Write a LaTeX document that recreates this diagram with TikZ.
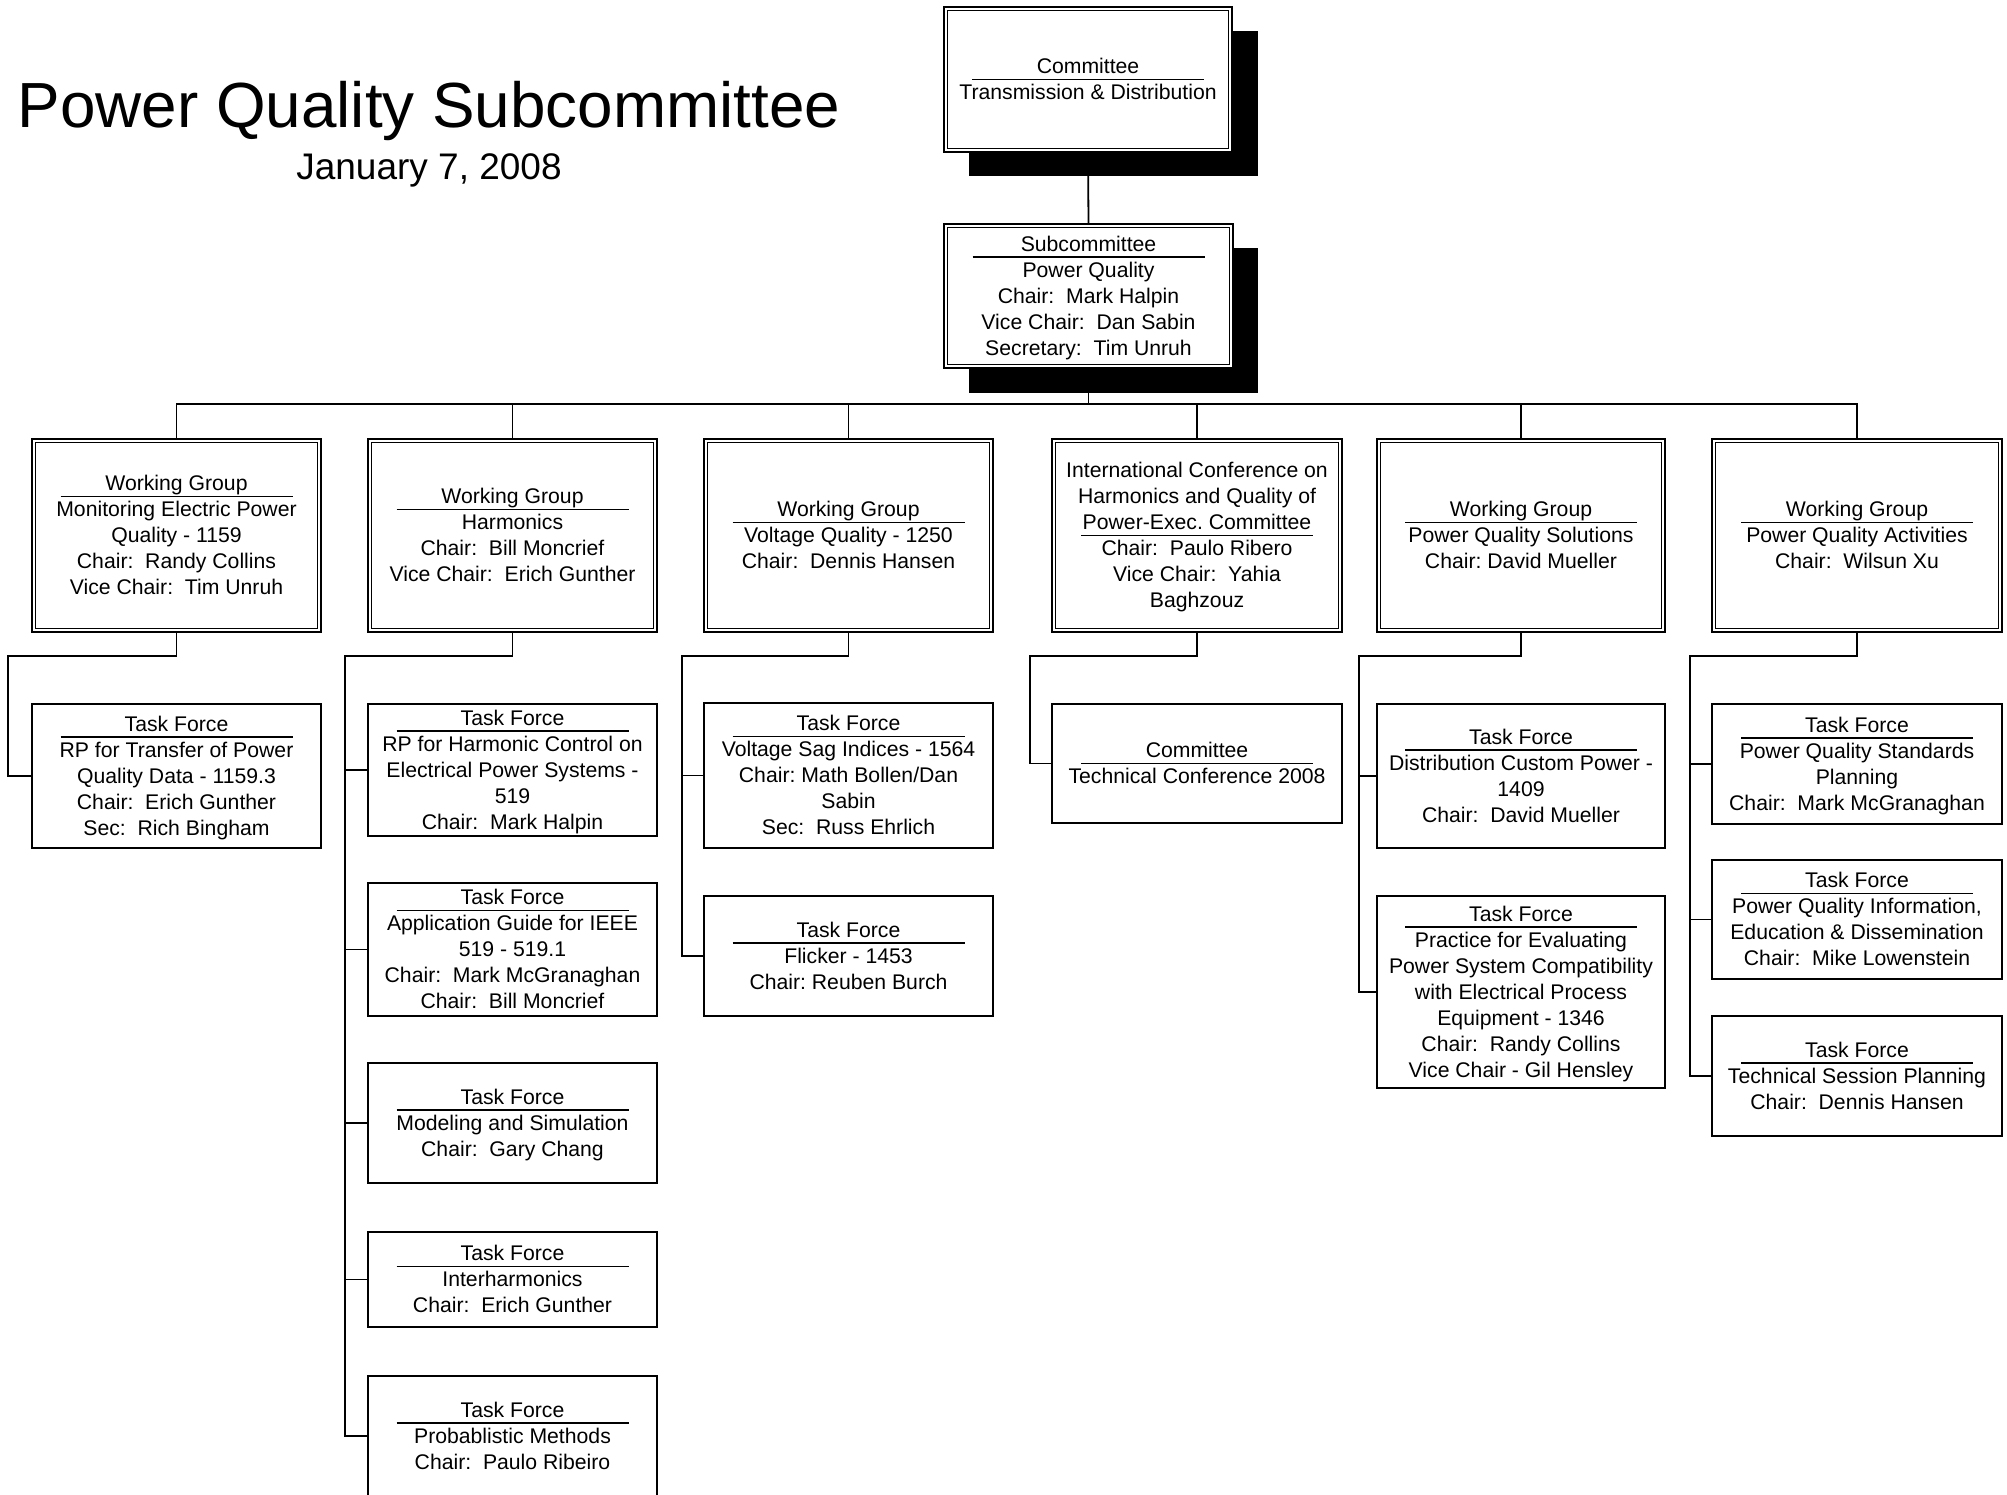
\documentclass[tikz,border=0pt]{standalone}
\usepackage{fontspec}
\setmainfont{Liberation Sans}
\usetikzlibrary{fit}
\frenchspacing
\newcommand\zs{\rule[-6pt]{0pt}{26pt}}
\tikzset{
  conn/.style={line width=1.8pt},
  boxst/.style={draw, fill=white, line width=1.8pt, inner sep=0pt},
  txt/.style={align=center, inner sep=0pt, font=\fontsize{21.2pt}{26pt}\selectfont},
  hrule/.style={line width=1.5pt},
  shadowfill/.style={fill=black},
}
\newcommand\obox[7]{%
  \node[boxst, fit={(#2,#3) (#4,#5)}] (#1) {};
  \node[txt] (#1-t) at (#1.center) {\zs #7\zs};
  \draw[hrule] ([xshift=-116pt, yshift={-#6*26pt}]#1-t.north) -- ++(232pt,0pt);
}
\newcommand\dbox[7]{%
  \obox{#1}{#2}{#3}{#4}{#5}{#6}{#7}
  \draw[line width=0.9pt] ([shift={(4.5pt,-4.5pt)}]#1.north west) rectangle ([shift={(-4.5pt,4.5pt)}]#1.south east);
}
\begin{document}
\begin{tikzpicture}[x=1pt,y=-1pt]
\useasboundingbox (0,0) rectangle (2007,1494);
\clip (0,0) rectangle (2007,1494);
\fill[white] (0,0) rectangle (2007,1494);

\node[font=\fontsize{63.8pt}{70pt}\selectfont, anchor=base, inner sep=0pt] (title) at (429,127) {Power Quality Subcommittee};
\node[font=\fontsize{37pt}{44pt}\selectfont, anchor=base, inner sep=0pt] (date) at (429,179) {January 7, 2008};

% top committee and subcommittee with shadows
\fill[shadowfill] (969,31) rectangle (1258,176);
\dbox{top}{944}{7}{1232}{152}{1}{Committee\\Transmission \& Distribution}
\fill[shadowfill] (969,248) rectangle (1258,393);
\dbox{sub}{944}{224}{1233}{368}{1}{Subcommittee\\Power Quality\\Chair:~ Mark Halpin\\Vice Chair:~ Dan Sabin\\Secretary:~ Tim Unruh}

% working groups
\dbox{wg1}{32}{439}{321}{632}{1}{Working Group\\Monitoring Electric Power\\Quality - 1159\\Chair:~ Randy Collins\\Vice Chair:~ Tim Unruh}
\dbox{wg2}{368}{439}{657}{632}{1}{Working Group\\Harmonics\\Chair:~ Bill Moncrief\\Vice Chair:~ Erich Gunther}
\dbox{wg3}{704}{439}{993}{632}{1}{Working Group\\Voltage Quality - 1250\\Chair:~ Dennis Hansen}
\dbox{wg4}{1052}{439}{1342}{632}{3}{International Conference on\\Harmonics and Quality of\\Power-Exec. Committee\\Chair:~ Paulo Ribero\\Vice Chair:~ Yahia\\Baghzouz}
\dbox{wg5}{1377}{439}{1665}{632}{1}{Working Group\\Power Quality Solutions\\Chair: David Mueller}
\dbox{wg6}{1712}{439}{2002}{632}{1}{Working Group\\Power Quality Activities\\Chair:~ Wilsun Xu}

% task forces
\obox{t11}{32}{704}{321}{848}{1}{Task Force\\RP for Transfer of Power\\Quality Data - 1159.3\\Chair:~ Erich Gunther\\Sec:~ Rich Bingham}

\obox{t21}{368}{704}{657}{836}{1}{Task Force\\RP for Harmonic Control on\\Electrical Power Systems -\\519\\Chair:~ Mark Halpin}
\obox{t22}{368}{883}{657}{1016}{1}{Task Force\\Application Guide for IEEE\\519 - 519.1\\Chair:~ Mark McGranaghan\\Chair:~ Bill Moncrief}
\obox{t23}{368}{1063}{657}{1183}{1}{Task Force\\Modeling and Simulation\\Chair:~ Gary Chang}
\obox{t24}{368}{1232}{657}{1327}{1}{Task Force\\Interharmonics\\Chair:~ Erich Gunther}
\obox{t25}{368}{1376}{657}{1496}{1}{Task Force\\Probablistic Methods\\Chair:~ Paulo Ribeiro}

\obox{t31}{704}{703}{993}{848}{1}{Task Force\\Voltage Sag Indices - 1564\\Chair: Math Bollen/Dan\\Sabin\\Sec:~ Russ Ehrlich}
\obox{t32}{704}{896}{993}{1016}{1}{Task Force\\Flicker - 1453\\Chair: Reuben Burch}

\obox{t41}{1052}{704}{1342}{823}{1}{Committee\\Technical Conference 2008}

\obox{t51}{1377}{704}{1665}{848}{1}{Task Force\\Distribution Custom Power -\\1409\\Chair:~ David Mueller}
\obox{t52}{1377}{896}{1665}{1088}{1}{Task Force\\Practice for Evaluating\\Power System Compatibility\\with Electrical Process\\Equipment - 1346\\Chair:~ Randy Collins\\Vice Chair - Gil Hensley}

\obox{t61}{1712}{704}{2002}{824}{1}{Task Force\\Power Quality Standards\\Planning\\Chair:~ Mark McGranaghan}
\obox{t62}{1712}{860}{2002}{979}{1}{Task Force\\Power Quality Information,\\Education \& Dissemination\\Chair:~ Mike Lowenstein}
\obox{t63}{1712}{1016}{2002}{1136}{1}{Task Force\\Technical Session Planning\\Chair:~ Dennis Hansen}

% connectors
\coordinate (bus) at (0,404);
\draw[conn] (top.south) -- (sub.north);
\draw[conn] (sub.south) -- (sub.south |- bus);
\draw[conn] (wg1.north) -- (wg1.north |- bus) -- (wg6.north |- bus) -- (wg6.north);
\foreach \w in {wg2,wg3,wg4,wg5}{\draw[conn] (\w.north |- bus) -- (\w.north);}

\coordinate (k1) at (8,656);
\coordinate (k2) at (345,656);
\coordinate (k3) at (682,656);
\coordinate (k4) at (1030,656);
\coordinate (k5) at (1359,656);
\coordinate (k6) at (1690,656);

\draw[conn] (wg1.south) |- (k1) |- (t11.west);
\draw[conn] (wg2.south) |- (k2) |- (t25.west);
\foreach \tf in {t21,t22,t23,t24}{\draw[conn] (k2 |- \tf.west) -- (\tf.west);}
\draw[conn] (wg3.south) |- (k3) |- (t32.west);
\draw[conn] (k3 |- t31.west) -- (t31.west);
\draw[conn] (wg4.south) |- (k4) |- (t41.west);
\draw[conn] (wg5.south) |- (k5) |- (t52.west);
\draw[conn] (k5 |- t51.west) -- (t51.west);
\draw[conn] (wg6.south) |- (k6) |- (t63.west);
\foreach \tf in {t61,t62}{\draw[conn] (k6 |- \tf.west) -- (\tf.west);}
\end{tikzpicture}
\end{document}
